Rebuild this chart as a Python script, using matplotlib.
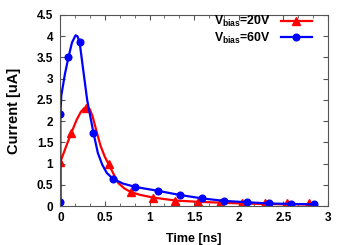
import numpy as np
import matplotlib
matplotlib.use('Agg')
import matplotlib.pyplot as plt
from matplotlib.lines import Line2D
from matplotlib.ticker import MultipleLocator

# markers
red_t = [0, 0, 0.12, 0.29, 0.54, 0.79, 1.04, 1.29, 1.54, 1.79, 2.04, 2.29, 2.54, 2.79]
red_i = [0, 1.04, 1.71, 2.31, 0.99, 0.33, 0.2, 0.13, 0.1, 0.08, 0.08, 0.07, 0.06, 0.06]
blue_t = [0, 0, 0.09, 0.215, 0.37, 0.59, 0.84, 1.09, 1.34, 1.59, 1.84, 2.09, 2.34, 2.59, 2.84]
blue_i = [0.1, 2.17, 3.5, 3.87, 1.73, 0.64, 0.45, 0.36, 0.26, 0.18, 0.12, 0.09, 0.06, 0.05, 0.04]

# smoothed curves
red_ct = [0, 0, 0.06, 0.12, 0.18, 0.23, 0.27, 0.3, 0.33, 0.36, 0.4, 0.45, 0.5, 0.54,
          0.6, 0.65, 0.72, 0.79, 0.9, 1.04, 1.29, 1.54, 1.79, 2.04, 2.29, 2.54, 2.79]
red_ci = [0, 1.04, 1.38, 1.71, 2.02, 2.22, 2.31, 2.33, 2.28, 2.12, 1.8, 1.42, 1.15, 0.99,
          0.74, 0.54, 0.41, 0.33, 0.26, 0.2, 0.13, 0.1, 0.08, 0.06, 0.05, 0.04, 0.04]
blue_ct = [0, 0, 0.01, 0.05, 0.09, 0.13, 0.17, 0.19, 0.215, 0.25, 0.3, 0.37, 0.42, 0.47,
           0.52, 0.59, 0.7, 0.84, 1.09, 1.34, 1.59, 1.84, 2.09, 2.34, 2.59, 2.84]
blue_ci = [0.1, 2.17, 2.6, 3.1, 3.5, 3.85, 4.02, 4.0, 3.87, 3.3, 2.5, 1.73, 1.25, 0.97,
           0.78, 0.64, 0.53, 0.45, 0.36, 0.26, 0.18, 0.12, 0.09, 0.06, 0.05, 0.04]

labels = [r'V$_{\mathbf{bias}}$=20V', r'V$_{\mathbf{bias}}$=60V']

plt.rcParams['font.family'] = ['Liberation Sans', 'DejaVu Sans']
plt.rcParams['font.weight'] = 'bold'
plt.rcParams['mathtext.fontset'] = 'custom'
plt.rcParams['mathtext.rm'] = 'Liberation Sans'
plt.rcParams['mathtext.bf'] = 'Liberation Sans:bold'
plt.rcParams['mathtext.default'] = 'bf'

fig = plt.figure(figsize=(3.5, 2.45), dpi=100)
ax = fig.add_axes([0.17, 0.159, 0.767, 0.78])

ax.plot(red_ct, red_ci, color='red', lw=1.6)
ax.plot(red_t, red_i, color='red', ls='none', marker='^', ms=5.5)
ax.plot(blue_ct, blue_ci, color='blue', lw=1.6)
ax.plot(blue_t, blue_i, color='blue', ls='none', marker='o', ms=4.8)

ax.set_xlim(-0.01, 3)
ax.set_ylim(0, 4.5)
ax.xaxis.set_major_locator(MultipleLocator(0.5))
ax.xaxis.set_minor_locator(MultipleLocator(0.5 / 3))
ax.yaxis.set_major_locator(MultipleLocator(0.5))
ax.xaxis.set_major_formatter(plt.FuncFormatter(lambda v, p: '%g' % v))
ax.yaxis.set_major_formatter(plt.FuncFormatter(lambda v, p: '%g' % v))
ax.tick_params(which='both', direction='in', top=True, right=True, labelsize=8.5,
               color='#555555')
ax.tick_params(which='major', length=3.5, pad=4.5)
ax.tick_params(which='minor', length=2)
for s in ax.spines.values():
    s.set_color('#555555')
    s.set_linewidth(0.8)

ax.set_xlabel('Time [ns]', fontsize=9, fontweight='bold', labelpad=6)
ax.set_ylabel('Current [uA]', fontsize=10.5, fontweight='bold', labelpad=11)

handles = [Line2D([], [], color='red', marker='^', ms=5.5, lw=1.6),
           Line2D([], [], color='blue', marker='o', ms=4.8, lw=1.6)]
leg = ax.legend(handles, labels, loc='upper right', bbox_to_anchor=(0.96, 1.03),
                frameon=False, fontsize=8.8, markerfirst=False, handlelength=2.6,
                handletextpad=0.8, labelspacing=0.1, borderaxespad=0, numpoints=1)
for t in leg.get_texts():
    t.set_fontweight('bold')
    t.set_ha('right')

fig.savefig('out.png', dpi=100)
